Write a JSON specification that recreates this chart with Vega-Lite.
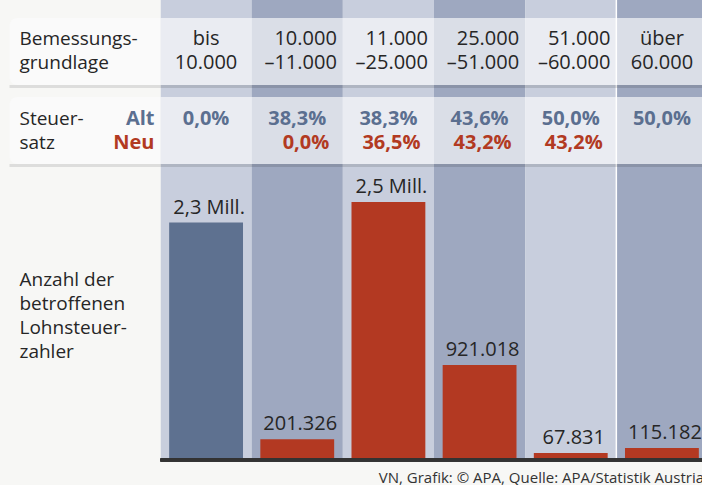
{
  "$schema": "https://vega.github.io/schema/vega-lite/v6.json",
  "background": "#f7f7f5",
  "padding": {"left": 7.5, "top": 0, "right": 0, "bottom": 0},
  "spacing": 0,
  "datasets": {
    "cols": [
      {"klasse": "bis 10.000", "range": "bis\n10.000", "alt": "0,0%", "neu": "", "n": 2300000, "label": "2,3 Mill."},
      {"klasse": "10.000–11.000", "range": "10.000\n–11.000", "alt": "38,3%", "neu": "0,0%", "n": 201326, "label": "201.326"},
      {"klasse": "11.000–25.000", "range": "11.000\n–25.000", "alt": "38,3%", "neu": "36,5%", "n": 2500000, "label": "2,5 Mill."},
      {"klasse": "25.000–51.000", "range": "25.000\n–51.000", "alt": "43,6%", "neu": "43,2%", "n": 921018, "label": "921.018"},
      {"klasse": "51.000–60.000", "range": "51.000\n–60.000", "alt": "50,0%", "neu": "43,2%", "n": 67831, "label": "67.831"},
      {"klasse": "über 60.000", "range": "über\n60.000", "alt": "50,0%", "neu": "", "n": 115182, "label": "115.182"}
    ],
    "rows": [
      {"row": "Bemessungsgrundlage", "label": "Bemessungs-\ngrundlage"},
      {"row": "Steuersatz", "label": "Steuer-\nsatz"}
    ],
    "tarife": [{"tarif": "Alt"}, {"tarif": "Neu"}],
    "notes": [{"text": "Anzahl der\nbetroffenen\nLohnsteuer-\nzahler"}]
  },
  "resolve": {"scale": {"x": "independent", "y": "independent", "fill": "independent"}},
  "vconcat": [
    {
      "spacing": 0,
      "bounds": "flush",
      "resolve": {"scale": {"x": "independent", "y": "independent", "fill": "independent"}},
      "hconcat": [
        {
          "width": 151,
          "height": 171,
          "layer": [
            {
              "data": {"name": "rows"},
              "mark": {"type": "rule", "stroke": "#000", "strokeOpacity": 0.1, "strokeWidth": 3, "yOffset": 1.5},
              "encoding": {
                "y": {"field": "row", "type": "nominal", "bandPosition": 1, "axis": null,
                  "scale": {"domain": ["Bemessungsgrundlage", "Steuersatz"], "paddingInner": 0.152, "paddingOuter": 0.158, "align": 0.72}}
              }
            },
            {
              "data": {"name": "rows"},
              "mark": {"type": "rect", "fill": "#fafafa", "cornerRadiusTopLeft": 8, "cornerRadiusBottomLeft": 8},
              "encoding": {"y": {"field": "row", "type": "nominal"}}
            },
            {
              "data": {"name": "rows"},
              "mark": {"type": "text", "align": "left", "baseline": "middle", "lineBreak": "\n", "lineHeight": 24, "fontSize": 19, "dx": 10, "dy": -12},
              "encoding": {
                "x": {"value": 0},
                "y": {"field": "row", "type": "nominal"},
                "text": {"field": "label"}
              }
            },
            {
              "data": {"name": "tarife"},
              "transform": [{"filter": "datum.tarif === 'Alt'"}],
              "mark": {"type": "text", "align": "right", "baseline": "middle", "fontSize": 20, "fontWeight": "bold", "color": "#5b6f90", "dx": -6, "dy": -12},
              "encoding": {
                "x": {"value": "width"},
                "y": {"datum": "Steuersatz"},
                "text": {"field": "tarif"}
              }
            },
            {
              "data": {"name": "tarife"},
              "transform": [{"filter": "datum.tarif === 'Neu'"}],
              "mark": {"type": "text", "align": "right", "baseline": "middle", "fontSize": 20, "fontWeight": "bold", "color": "#b23a22", "dx": -6, "dy": 12},
              "encoding": {
                "x": {"value": "width"},
                "y": {"datum": "Steuersatz"},
                "text": {"field": "tarif"}
              }
            }
          ]
        },
        {
          "width": 542,
          "height": 171,
          "layer": [
            {
              "data": {"name": "cols"},
              "mark": {"type": "rect", "clip": true},
              "encoding": {
                "x": {"field": "klasse", "type": "nominal", "axis": null,
                  "scale": {"domain": ["bis 10.000", "10.000–11.000", "11.000–25.000", "25.000–51.000", "51.000–60.000", "über 60.000"], "range": [0, 547], "paddingInner": 0, "paddingOuter": 0}},
                "fill": {"field": "klasse", "type": "nominal", "legend": null,
                  "scale": {"domain": ["bis 10.000", "10.000–11.000", "11.000–25.000", "25.000–51.000", "51.000–60.000", "über 60.000"], "range": ["#c8cedd", "#9ea8c0", "#c8cedd", "#9ea8c0", "#c8cedd", "#9ea8c0"]}}
              }
            },
            {
              "data": {"name": "cols"},
              "transform": [{"filter": "datum.klasse === 'über 60.000'"}],
              "mark": {"type": "rule", "stroke": "#ffffff", "strokeWidth": 1.5, "clip": true},
              "encoding": {"x": {"field": "klasse", "type": "nominal", "bandPosition": 0}}
            },
            {
              "data": {"name": "rows"},
              "mark": {"type": "rule", "stroke": "#000", "strokeOpacity": 0.12, "strokeWidth": 3, "yOffset": 1.5},
              "encoding": {
                "y": {"field": "row", "type": "nominal", "bandPosition": 1, "axis": null,
                  "scale": {"domain": ["Bemessungsgrundlage", "Steuersatz"], "paddingInner": 0.152, "paddingOuter": 0.158, "align": 0.72}}
              }
            },
            {
              "data": {"name": "rows"},
              "mark": {"type": "rect", "fill": "#ffffff", "fillOpacity": 0.62},
              "encoding": {"y": {"field": "row", "type": "nominal"}}
            },
            {
              "data": {"name": "cols"},
              "transform": [{"filter": "datum.klasse === 'bis 10.000' || datum.klasse === 'über 60.000'"}],
              "mark": {"type": "text", "align": "center", "baseline": "middle", "lineBreak": "\n", "lineHeight": 24, "fontSize": 20, "dy": -12, "clip": true},
              "encoding": {
                "x": {"field": "klasse", "type": "nominal"},
                "y": {"datum": "Bemessungsgrundlage"},
                "text": {"field": "range"}
              }
            },
            {
              "data": {"name": "cols"},
              "transform": [{"filter": "datum.klasse !== 'bis 10.000' && datum.klasse !== 'über 60.000'"}],
              "mark": {"type": "text", "align": "right", "baseline": "middle", "lineBreak": "\n", "lineHeight": 24, "fontSize": 20, "dx": -6, "dy": -12},
              "encoding": {
                "x": {"field": "klasse", "type": "nominal", "bandPosition": 1},
                "y": {"datum": "Bemessungsgrundlage"},
                "text": {"field": "range"}
              }
            },
            {
              "data": {"name": "cols"},
              "mark": {"type": "text", "align": "center", "baseline": "middle", "fontSize": 20, "fontWeight": "bold", "color": "#5b6f90", "dy": -12, "clip": true},
              "encoding": {
                "x": {"field": "klasse", "type": "nominal"},
                "y": {"datum": "Steuersatz"},
                "text": {"field": "alt"}
              }
            },
            {
              "data": {"name": "cols"},
              "transform": [{"filter": "datum.neu !== ''"}],
              "mark": {"type": "text", "align": "right", "baseline": "middle", "fontSize": 20, "fontWeight": "bold", "color": "#b23a22", "dx": 32, "dy": 12},
              "encoding": {
                "x": {"field": "klasse", "type": "nominal"},
                "y": {"datum": "Steuersatz"},
                "text": {"field": "neu"}
              }
            }
          ]
        }
      ]
    },
    {
      "spacing": 0,
      "bounds": "flush",
      "resolve": {"scale": {"x": "independent", "y": "independent", "fill": "independent"}},
      "hconcat": [
        {
          "width": 151,
          "height": 289,
          "data": {"name": "notes"},
          "mark": {"type": "text", "align": "left", "baseline": "middle", "lineBreak": "\n", "lineHeight": 24, "fontSize": 19, "dx": 10, "dy": -36},
          "encoding": {
            "x": {"value": 0},
            "text": {"field": "text"}
          }
        },
        {
          "width": 542,
          "height": 289,
          "title": {"text": "VN, Grafik: © APA, Quelle: APA/Statistik Austria", "orient": "bottom", "anchor": "end", "fontSize": 15, "fontWeight": "normal", "color": "#333333", "offset": 9},
          "data": {"name": "cols"},
          "layer": [
            {
              "mark": {"type": "rect", "clip": true},
              "encoding": {
                "x": {"field": "klasse", "type": "nominal", "axis": null,
                  "scale": {"domain": ["bis 10.000", "10.000–11.000", "11.000–25.000", "25.000–51.000", "51.000–60.000", "über 60.000"], "range": [0, 547], "paddingInner": 0, "paddingOuter": 0}},
                "fill": {"field": "klasse", "type": "nominal", "legend": null,
                  "scale": {"domain": ["bis 10.000", "10.000–11.000", "11.000–25.000", "25.000–51.000", "51.000–60.000", "über 60.000"], "range": ["#c8cedd", "#9ea8c0", "#c8cedd", "#9ea8c0", "#c8cedd", "#9ea8c0"]}}
              }
            },
            {
              "transform": [{"filter": "datum.klasse === 'über 60.000'"}],
              "mark": {"type": "rule", "stroke": "#ffffff", "strokeWidth": 1.5, "clip": true},
              "encoding": {"x": {"field": "klasse", "type": "nominal", "bandPosition": 0}}
            },
            {
              "mark": {"type": "bar", "width": {"band": 0.81}, "clip": true},
              "encoding": {
                "x": {"field": "klasse", "type": "nominal"},
                "y": {"field": "n", "type": "quantitative", "axis": null, "scale": {"domain": [0, 2740000]}},
                "fill": {"condition": {"test": "datum.klasse === 'bis 10.000'", "value": "#5e7190"}, "value": "#b33922"}
              }
            },
            {
              "mark": {"type": "text", "align": "center", "baseline": "alphabetic", "fontSize": 20, "dy": -9, "dx": 3, "clip": true},
              "encoding": {
                "x": {"field": "klasse", "type": "nominal"},
                "y": {"field": "n", "type": "quantitative"},
                "text": {"field": "label"}
              }
            },
            {
              "mark": {"type": "rule", "stroke": "#333333", "strokeWidth": 3},
              "encoding": {"y": {"datum": 0}}
            }
          ]
        }
      ]
    }
  ],
  "config": {
    "view": {"stroke": null},
    "font": "Open Sans",
    "text": {"color": "#262626"},
    "axis": {"disable": true},
    "title": {"font": "Open Sans"}
  }
}
